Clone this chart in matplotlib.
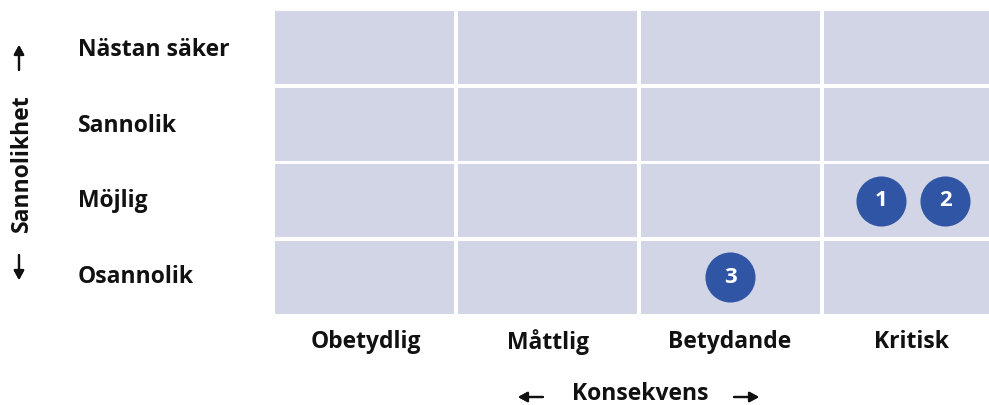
import matplotlib
matplotlib.use("Agg")
import matplotlib.pyplot as plt
from matplotlib.patches import Rectangle

# ---- data ----
consequences = ["Obetydlig", "Måttlig", "Betydande", "Kritisk"]
likelihoods = ["Osannolik", "Möjlig", "Sannolik", "Nästan säker"]  # bottom -> top
risk_ids = [1, 2, 3]
risk_consequence = ["Kritisk", "Kritisk", "Betydande"]
risk_likelihood = ["Möjlig", "Möjlig", "Osannolik"]
x_title = "Konsekvens"
y_title = "Sannolikhet"

# ---- style ----
cell_color = "#d1d5e6"
dot_color = "#2f55a4"
txt_color = "#111111"
FONT = ["Open Sans", "DejaVu Sans"]
plt.rcParams["font.family"] = FONT
FS = 16.5

W, H, DPI = 989, 405, 100
fig = plt.figure(figsize=(W / DPI, H / DPI), dpi=DPI)
left, right, top, bottom = 275, 1003, 11, 314
ax = fig.add_axes([left / W, 1 - bottom / H, (right - left) / W, (bottom - top) / H])

nx, ny = len(consequences), len(likelihoods)
gx = 3.5 / ((right - left) / nx)   # gap in data units
gy = 3.5 / ((bottom - top) / ny)
for i in range(nx):
    for j in range(ny):
        ax.add_patch(Rectangle((i + gx / 2, j + gy / 2), 1 - gx, 1 - gy,
                               facecolor=cell_color, edgecolor="none"))
ax.set_xlim(gx / 2, nx - gx / 2)
ax.set_ylim(gy / 2, ny - gy / 2)
ax.axis("off")

# group risks per cell and spread horizontally
cells = {}
for rid, c, l in zip(risk_ids, risk_consequence, risk_likelihood):
    cells.setdefault((consequences.index(c), likelihoods.index(l)), []).append(rid)
spread = 64 / ((right - left) / nx)
for (ci, li), ids in cells.items():
    n = len(ids)
    for k, rid in enumerate(ids):
        x = ci + 0.5 + (k - (n - 1) / 2) * spread
        y = li + 0.5
        ax.scatter([x], [y], s=1300, color=dot_color, zorder=3, linewidths=0)
        ax.text(x, y, str(rid), color="white", fontsize=16, fontweight="bold",
                ha="center", va="center", zorder=4)

# y category labels
for j, lab in enumerate(likelihoods):
    yc = top + (bottom - top) * (1 - (j + 0.5) / ny)
    fig.text(78 / W, 1 - (yc + 1) / H, lab, ha="left", va="center",
             fontsize=FS, fontweight="bold", color=txt_color)

# x category labels
for i, lab in enumerate(consequences):
    xc = left + (right - left) * (i + 0.5) / nx
    fig.text(xc / W, 1 - 342 / H, lab, ha="center", va="center",
             fontsize=FS, fontweight="bold", color=txt_color)

# axis titles with arrows
fig.text(22 / W, 1 - 163 / H, y_title, rotation=90, ha="center", va="center",
         fontsize=FS, fontweight="bold", color=txt_color)
fig.text(640 / W, 1 - 394 / H, x_title, ha="center", va="center",
         fontsize=FS, fontweight="bold", color=txt_color)

aprops = dict(arrowstyle="-|>,head_length=0.55,head_width=0.3", lw=1.6,
              color=txt_color, shrinkA=0, shrinkB=0, mutation_scale=10)
def arrow(x0, y0, x1, y1):
    fig.add_artist(plt.annotate("", xy=(x1, H - y1), xytext=(x0, H - y0),
                                xycoords="figure pixels",
                                textcoords="figure pixels", arrowprops=aprops))

arrow(19, 70, 19, 45)     # up
arrow(19, 255, 19, 280)   # down
arrow(543, 397, 518, 397) # left
arrow(734, 397, 759, 397) # right

fig.savefig("out.png", dpi=DPI)
